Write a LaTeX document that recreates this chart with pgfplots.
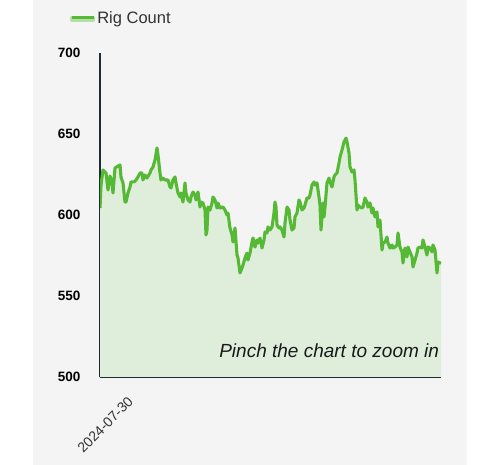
\documentclass[border=0pt]{standalone}
\usepackage{pgfplots}
\pgfplotsset{compat=1.18}
\usepackage{pgfplotstable}
\usepackage{fontspec}
\setmainfont{Liberation Sans}
\definecolor{panel}{HTML}{F4F4F4}
\definecolor{rig}{HTML}{55B935}
\definecolor{rigfill}{HTML}{DFEEDB}
\definecolor{axc}{HTML}{1E2B33}
\definecolor{txt}{HTML}{333333}

\pgfplotstableread{
x y
0 604.3
1 618.5
3 627.8
6 625.9
8 615.4
10 624.1
12 619.8
13 613.6
15 629
18 630.2
20 630.9
21 623.5
23 619.8
25 608
26 608
28 613.6
30 617.3
31 620.4
34 620.4
36 621.6
38 623.5
40 625.9
42 625.9
43 621.6
45 624.7
47 622.8
50 625.9
51 627.8
53 629.6
55 634
57 641.4
58 637
60 625.9
61 621.6
63 622.8
65 621.6
68 621.6
70 617.3
71 616.7
73 621.6
75 623.5
76 619.8
78 613.6
80 611.1
81 613.6
83 608
85 619.8
86 613.6
88 609.3
90 608
91 611.1
93 614.2
95 612.3
96 609.3
98 614.2
100 604.9
101 608
103 607.4
105 603.1
106 587.7
107 590.7
108 604.9
110 603.1
112 607.4
113 611.1
115 609.3
117 604.3
118 607.4
120 604.3
122 604.9
123 604.9
125 603.1
127 600
128 601.2
130 592
132 587.7
133 583.3
135 592
137 575.3
138 573.5
140 564.2
142 567.3
143 569.1
145 573.5
147 576.5
148 572.2
150 576.5
152 583.3
153 585.8
155 580.2
157 584.6
158 582.7
160 585.8
162 579.6
164 584.6
165 589.5
167 588.9
168 592.6
170 590.7
172 592.6
174 601.2
175 608
176 604.9
177 593.8
179 592
180 592.6
182 590.7
184 586.4
185 595.1
187 604.9
189 603.1
190 596.9
192 590.7
194 592
195 598.8
197 601.2
199 609.3
200 608
202 603.1
204 604.3
205 606.2
207 610.5
209 610.5
210 612.3
212 618.5
214 620.4
215 618.5
217 619.8
219 611.1
220 606.2
221 590.7
223 607.4
224 598.8
225 604.9
227 619.8
229 622.8
230 620.4
232 617.3
234 623.5
235 624.7
237 625.9
239 632.1
240 635.8
242 640.1
244 645.1
245 646.3
246 647.5
247 645.1
249 638.3
250 629.6
252 626.5
254 627.8
255 621.6
257 603.1
258 606.2
260 604.9
262 604.3
263 604.9
265 610.5
267 608
268 604.9
270 607.4
272 601.2
273 604.3
275 598.8
277 601.9
278 592.6
280 596.9
282 578.4
283 582.7
285 583.3
287 586.4
288 582.7
290 579.6
292 581.5
293 579.6
295 580.2
297 581.5
298 588.9
300 580.2
302 577.2
303 570.4
305 579.6
307 574.1
308 580.2
310 577.2
312 574.1
313 567.9
315 572.2
317 576.5
318 579.6
320 580.2
322 579.6
323 584.6
325 580.2
327 575.3
328 580.2
330 579.6
332 577.2
333 581.5
335 578.4
337 564.2
338 571
340 570.4
341 570.4
}\rigdata

\begin{document}
\begin{tikzpicture}
\fill[white] (0pt,0pt) rectangle (500pt,465pt);
\fill[panel] (33pt,0pt) rectangle (467pt,465pt);
\begin{axis}[
  at={(100pt,88pt)}, anchor=south west,
  scale only axis, width=341pt, height=324pt,
  xmin=0, xmax=341, ymin=500, ymax=700,
  ytick={500,550,600,650,700},
  xtick={32}, xticklabels={2024-07-30},
  axis x line*=bottom, axis y line*=left,
  axis line style={axc, line width=1.4pt, -},
  major tick length=0pt,
  yticklabel style={font=\bfseries\fontsize{13.5}{13.5}\selectfont, text=black, xshift=-16pt},
  xticklabel style={font=\fontsize{14}{14}\selectfont, text=txt, xshift=-5pt, yshift=-14pt, rotate=45, anchor=north east},
  /pgf/number format/assume math mode=true,
  legend style={at={(axis description cs:-0.088,1.108)}, anchor=west, draw=none, fill=none, inner sep=0pt,
    font=\fontsize{16.5}{16.5}\selectfont, text=txt},
  legend image code/.code={
    \fill[rigfill!70!rig] (0pt,-2.8pt) rectangle (22pt,0pt);
    \draw[rig, line width=2.4pt] (0pt,0.6pt) -- (22pt,0.6pt);
  },
]
\addplot[draw=none, fill=rigfill, forget plot] table[x=x,y=y] {\rigdata} \closedcycle;
\addplot[rig, line width=3.1pt, line join=round] table[x=x,y=y] {\rigdata};
\addlegendentry{Rig Count}
\node[font=\itshape\fontsize{19}{19}\selectfont, text=black!90] at (axis description cs:0.672,0.080) {Pinch the chart to zoom in};
\end{axis}
\pgfresetboundingbox
\path[use as bounding box] (0pt,0pt) rectangle (500pt,465pt);
\end{tikzpicture}
\end{document}
